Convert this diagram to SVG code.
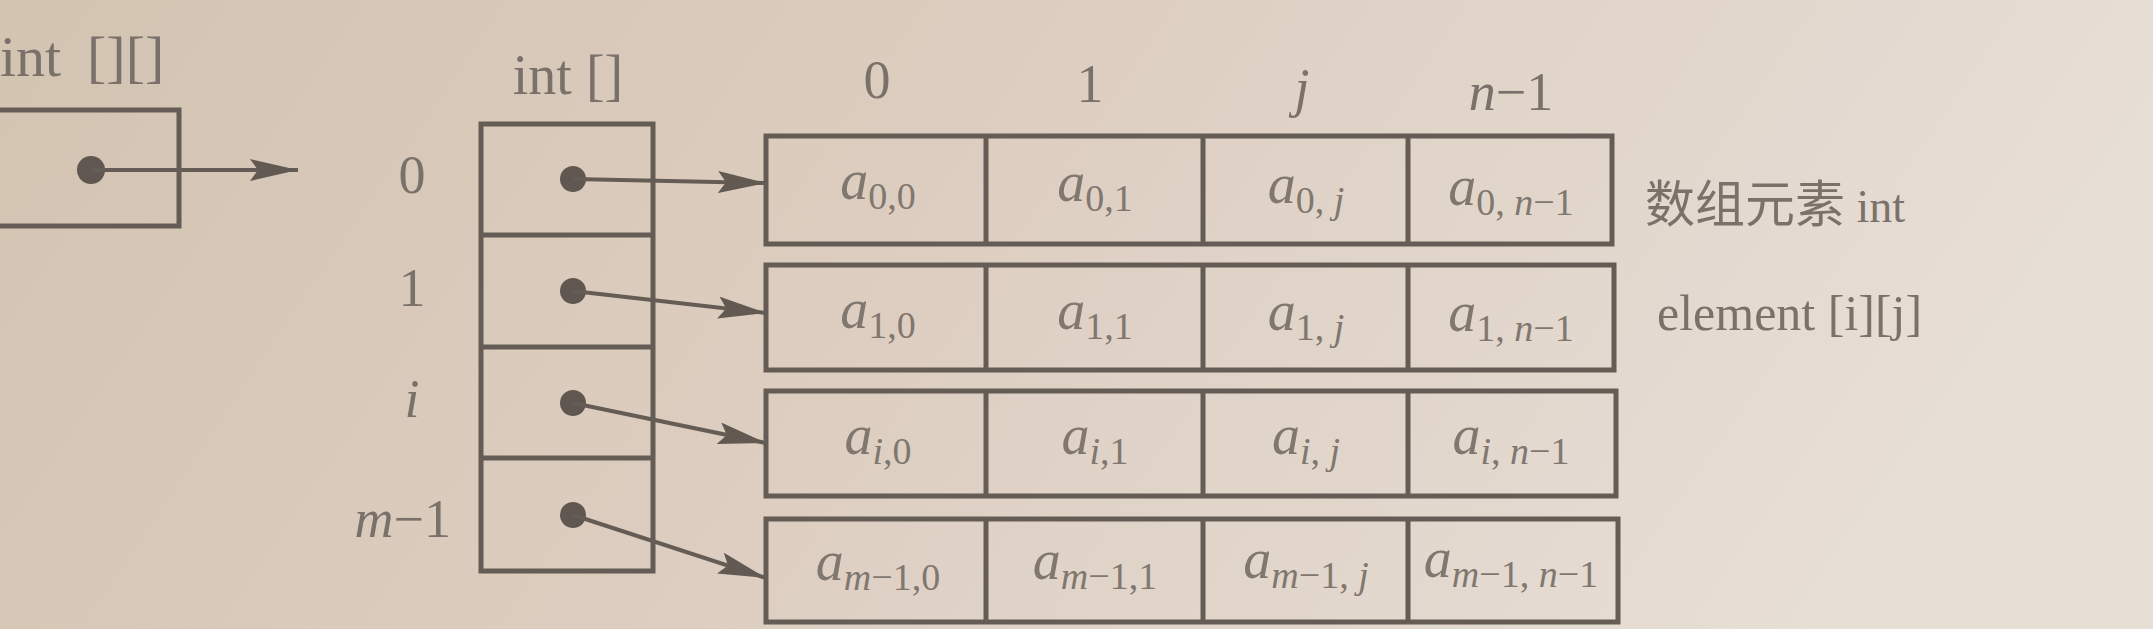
<svg xmlns="http://www.w3.org/2000/svg" width="2153" height="629" viewBox="0 0 2153 629">
<defs>
<linearGradient id="bg" x1="0" y1="0" x2="1" y2="0.2">
<stop offset="0" stop-color="#d3c3b1"/>
<stop offset="0.5" stop-color="#ddcec1"/>
<stop offset="1" stop-color="#e7ded6"/>
</linearGradient>
<marker id="arr" viewBox="0 0 48 22" refX="48" refY="11" markerWidth="48" markerHeight="22" markerUnits="userSpaceOnUse" orient="auto">
<path d="M0,0 L48,11 L0,22 L8,11 z" fill="#625a52"/>
</marker>
</defs>
<style>
.box{fill:none;stroke:#655d55;stroke-width:5}
.lbl{font-family:"Liberation Serif","Noto Sans CJK SC",serif;font-size:52px;fill:#7a716a}
.it{font-style:italic}
.cell{font-family:"Liberation Serif",serif;font-size:56px;fill:#80776f;text-anchor:middle}
.sub{font-size:38px}
.dot{fill:#5f5750}
.conn{stroke:#655d55;stroke-width:4;fill:none;marker-end:url(#arr)}
</style>
<rect x="0" y="0" width="2153" height="629" fill="url(#bg)"/>

<g id="var-label"><text class="lbl" x="0" y="76" style="font-size:58px">int <tspan x="87">[][]</tspan></text></g>
<g id="var-box">
<rect class="box" x="-10" y="110" width="189" height="116"/>
<circle class="dot" cx="91" cy="170" r="14"/>
</g>

<g id="rows-label"><text class="lbl" x="568" y="94" text-anchor="middle" style="font-size:56px">int []</text></g>
<g id="row-index-labels">
<text class="lbl" x="412" y="193" text-anchor="middle" style="font-size:54px">0</text>
<text class="lbl" x="412" y="306" text-anchor="middle" style="font-size:54px">1</text>
<text class="lbl it" x="412" y="417" text-anchor="middle" style="font-size:54px">i</text>
<text class="lbl" x="451" y="537" text-anchor="end" style="font-size:54px"><tspan class="it">m</tspan>−1</text>
</g>
<g id="row-refs">
<rect class="box" x="481" y="124" width="172" height="447"/>
<line class="box" x1="481" y1="235" x2="653" y2="235"/>
<line class="box" x1="481" y1="347" x2="653" y2="347"/>
<line class="box" x1="481" y1="458" x2="653" y2="458"/>
<circle class="dot" cx="573" cy="179" r="13"/>
<circle class="dot" cx="573" cy="291" r="13"/>
<circle class="dot" cx="573" cy="403" r="13"/>
<circle class="dot" cx="573" cy="515" r="13"/>
</g>

<g id="col-index-labels">
<text class="lbl" x="877" y="98" text-anchor="middle" style="font-size:54px">0</text>
<text class="lbl" x="1090" y="102" text-anchor="middle" style="font-size:54px">1</text>
<text class="lbl it" x="1302" y="106" text-anchor="middle" style="font-size:54px">j</text>
<text class="lbl" x="1511" y="110" text-anchor="middle" style="font-size:54px"><tspan class="it">n</tspan>−1</text>
</g>

<g id="row-0">
<rect class="box" x="766" y="136" width="846" height="108"/>
<line class="box" x1="986" y1="136" x2="986" y2="244"/>
<line class="box" x1="1203" y1="136" x2="1203" y2="244"/>
<line class="box" x1="1408" y1="136" x2="1408" y2="244"/>
<text class="cell" x="878" y="199"><tspan class="it">a</tspan><tspan class="sub" dy="10">0,0</tspan></text>
<text class="cell" x="1095" y="201"><tspan class="it">a</tspan><tspan class="sub" dy="10">0,1</tspan></text>
<text class="cell" x="1306" y="203"><tspan class="it">a</tspan><tspan class="sub" dy="10">0, <tspan class="it">j</tspan></tspan></text>
<text class="cell" x="1511" y="205"><tspan class="it">a</tspan><tspan class="sub" dy="10">0, <tspan class="it">n</tspan>−1</tspan></text>
</g>

<g id="row-1">
<rect class="box" x="766" y="265" width="848" height="105"/>
<line class="box" x1="986" y1="265" x2="986" y2="370"/>
<line class="box" x1="1203" y1="265" x2="1203" y2="370"/>
<line class="box" x1="1408" y1="265" x2="1408" y2="370"/>
<text class="cell" x="878" y="328"><tspan class="it">a</tspan><tspan class="sub" dy="10">1,0</tspan></text>
<text class="cell" x="1095" y="329"><tspan class="it">a</tspan><tspan class="sub" dy="10">1,1</tspan></text>
<text class="cell" x="1306" y="330"><tspan class="it">a</tspan><tspan class="sub" dy="10">1, <tspan class="it">j</tspan></tspan></text>
<text class="cell" x="1511" y="331"><tspan class="it">a</tspan><tspan class="sub" dy="10">1, <tspan class="it">n</tspan>−1</tspan></text>
</g>

<g id="row-i">
<rect class="box" x="766" y="391" width="850" height="105"/>
<line class="box" x1="986" y1="391" x2="986" y2="496"/>
<line class="box" x1="1203" y1="391" x2="1203" y2="496"/>
<line class="box" x1="1408" y1="391" x2="1408" y2="496"/>
<text class="cell" x="878" y="454"><tspan class="it">a</tspan><tspan class="sub it" dy="10">i</tspan><tspan class="sub">,0</tspan></text>
<text class="cell" x="1095" y="454"><tspan class="it">a</tspan><tspan class="sub it" dy="10">i</tspan><tspan class="sub">,1</tspan></text>
<text class="cell" x="1306" y="454"><tspan class="it">a</tspan><tspan class="sub it" dy="10">i</tspan><tspan class="sub">, <tspan class="it">j</tspan></tspan></text>
<text class="cell" x="1511" y="454"><tspan class="it">a</tspan><tspan class="sub it" dy="10">i</tspan><tspan class="sub">, <tspan class="it">n</tspan>−1</tspan></text>
</g>

<g id="row-m-1">
<rect class="box" x="766" y="519" width="852" height="103"/>
<line class="box" x1="986" y1="519" x2="986" y2="622"/>
<line class="box" x1="1203" y1="519" x2="1203" y2="622"/>
<line class="box" x1="1408" y1="519" x2="1408" y2="622"/>
<text class="cell" x="878" y="580"><tspan class="it">a</tspan><tspan class="sub it" dy="10">m</tspan><tspan class="sub">−1,0</tspan></text>
<text class="cell" x="1095" y="579"><tspan class="it">a</tspan><tspan class="sub it" dy="10">m</tspan><tspan class="sub">−1,1</tspan></text>
<text class="cell" x="1306" y="578"><tspan class="it">a</tspan><tspan class="sub it" dy="10">m</tspan><tspan class="sub">−1, <tspan class="it">j</tspan></tspan></text>
<text class="cell" x="1511" y="577"><tspan class="it">a</tspan><tspan class="sub it" dy="10">m</tspan><tspan class="sub">−1, <tspan class="it">n</tspan>−1</tspan></text>
</g>

<g id="annotations">
<text class="lbl" x="1645" y="222" style="font-size:50px">数组元素<tspan style="font-size:46px"> int</tspan></text>
<text class="lbl" x="1657" y="330" style="font-size:50px">element [i][j]</text>
</g>

<g id="connectors">
<line class="conn" x1="91" y1="170" x2="298" y2="170"/>
<line class="conn" x1="573" y1="179" x2="766" y2="183"/>
<line class="conn" x1="573" y1="291" x2="766" y2="313"/>
<line class="conn" x1="573" y1="403" x2="766" y2="443"/>
<line class="conn" x1="573" y1="515" x2="766" y2="578"/>
</g>
</svg>
